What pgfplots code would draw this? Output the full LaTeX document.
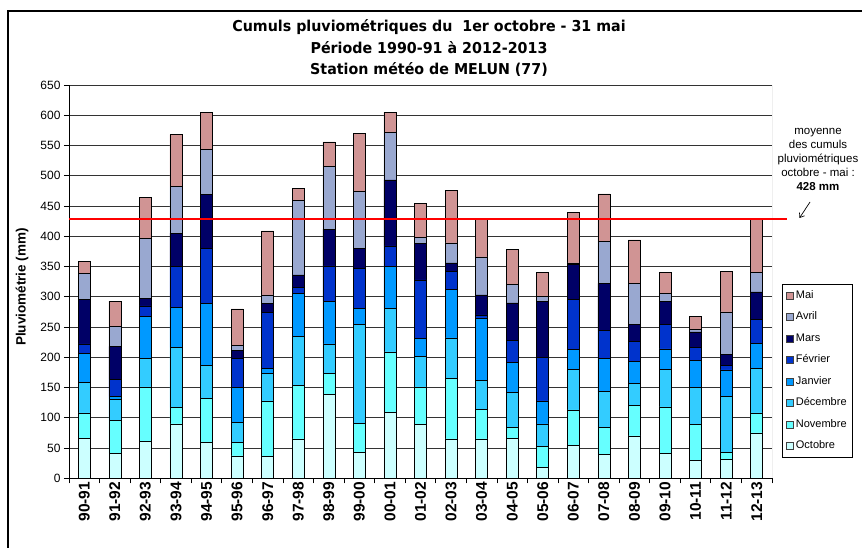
\documentclass[border=0pt]{standalone}
\usepackage{pgfplots}
\pgfplotsset{compat=1.18}
\usepackage{pgfplotstable}
\usepackage{fontspec}
\setmainfont{Liberation Sans}
\newfontfamily\titlefont[FakeStretch=0.95]{DejaVu Sans}
\usetikzlibrary{arrows.meta}

\definecolor{cOct}{HTML}{CCFFFF}
\definecolor{cNov}{HTML}{66FFFF}
\definecolor{cDec}{HTML}{33CCFF}
\definecolor{cJan}{HTML}{0099FF}
\definecolor{cFev}{HTML}{0033CC}
\definecolor{cMar}{HTML}{000066}
\definecolor{cAvr}{HTML}{99A8D0}
\definecolor{cMai}{HTML}{D09494}

\pgfplotstableread{
x  oct nov dec jan fev mar avr mai
0  66  42  50  48  16  74  43  20
1  41  55  35  4   29  54  33  42
2  61  90  47  69  18  12  100 67
3  90  27  99  67  67  55  77  86
4  59  73  54  103 91  89  75  61
5  37  22  34  57  48  14  8   60
6  36  92  46  7   93  15  14  106
7  65  88  82  71  10  20  123 20
8  139 35  48  71  58  61  104 40
9  43  48  163 27  66  33  94  96
10 109 100 72  69  34  109 79  33
11 89  62  51  29  97  60  10  56
12 65  100 67  80  30  14  33  87
13 65  49  48  103 5   33  63  62
14 66  18  58  50  36  62  30  58
15 18  35  37  38  72  93  7   40
16 54  59  67  33  82  58  3   83
17 39  45  59  55  47  77  69  79
18 70  50  37  36  33  28  68  72
19 41  77  62  34  40  39  13  34
20 29  60  61  45  21  26  4   21
21 31  12  92  44  7   19  70  67
22 75  33  74  41  40  45  32  88
}\data

\begin{document}
\begin{tikzpicture}
\useasboundingbox (0pt,0pt) rectangle (862pt,548pt);
\draw[line width=1.3pt] (8pt,-2pt) -- (8pt,537pt) -- (864pt,537pt);

\node[font=\titlefont\bfseries\fontsize{15}{18}\selectfont, anchor=base] at (429pt,516.5pt) {Cumuls pluviométriques du\ \ 1er octobre - 31 mai};
\node[font=\titlefont\bfseries\fontsize{15}{18}\selectfont, anchor=base] at (429pt,494.7pt) {Période 1990-91 à 2012-2013};
\node[font=\titlefont\bfseries\fontsize{15}{18}\selectfont, anchor=base] at (429pt,473pt) {Station météo de MELUN (77)};

\node[rotate=90, font=\bfseries\fontsize{13.5}{15}\selectfont] at (22pt,261pt) {Pluviométrie (mm)};

\begin{axis}[
  at={(69pt,69.7pt)}, anchor=south west, scale only axis,
  width=703pt, height=393.3pt,
  xmin=-0.5, xmax=22.5, ymin=0, ymax=650,
  ybar stacked, bar width=12pt,
  ytick={0,50,...,650}, ymajorgrids,
  grid style={black!80, line width=0.7pt},
  axis lines*=left, axis line style={black, line width=0.8pt},
  tick align=outside, major tick length=5pt,
  tick style={black, line width=0.8pt},
  xtick={-0.5,0.5,...,22.5}, xticklabels={},
  extra x ticks={0,1,...,22},
  extra x tick labels={90-91,91-92,92-93,93-94,94-95,95-96,96-97,97-98,98-99,99-00,00-01,01-02,02-03,03-04,04-05,05-06,06-07,07-08,08-09,09-10,10-11,11-12,12-13},
  extra x tick style={major tick length=0pt, grid=none},
  xticklabel style={rotate=90, anchor=east, font=\bfseries\fontsize{15.5}{16}\selectfont},
  yticklabel style={font=\fontsize{12}{14}\selectfont},
  /pgf/number format/assume math mode=true,
  reverse legend,
  legend cell align=left,
  legend style={at={(axis description cs:1.0142,0.494)}, anchor=north west,
    draw=black, line width=0.8pt, fill=white,
    font=\fontsize{11}{13}\selectfont, inner sep=4pt, row sep=7pt,
    nodes={inner ysep=2pt, inner xsep=2pt, text height=8pt, text depth=2.5pt}},
  legend image code/.code={\draw[#1, draw=black!75, line width=0.5pt] (0pt,-3.5pt) rectangle (7pt,3.5pt);},
]
\addplot[fill=cOct, draw=black, line width=0.6pt] table[x=x,y=oct]{\data};
\addplot[fill=cNov, draw=black, line width=0.6pt] table[x=x,y=nov]{\data};
\addplot[fill=cDec, draw=black, line width=0.6pt] table[x=x,y=dec]{\data};
\addplot[fill=cJan, draw=black, line width=0.6pt] table[x=x,y=jan]{\data};
\addplot[fill=cFev, draw=black, line width=0.6pt] table[x=x,y=fev]{\data};
\addplot[fill=cMar, draw=black, line width=0.6pt] table[x=x,y=mar]{\data};
\addplot[fill=cAvr, draw=black, line width=0.6pt] table[x=x,y=avr]{\data};
\addplot[fill=cMai, draw=black, line width=0.6pt] table[x=x,y=mai]{\data};
\legend{Octobre,Novembre,Décembre,Janvier,Février,Mars,Avril,Mai}
\draw[gray, line width=0.8pt] (rel axis cs:1,0) -- (rel axis cs:1,1);
\end{axis}

\begin{axis}[
  at={(69pt,69.7pt)}, anchor=south west, scale only axis,
  width=703pt, height=393.3pt,
  xmin=-0.5, xmax=22.5, ymin=0, ymax=650,
  hide axis, clip=false,
]
\addplot[red, line width=2pt] coordinates {(-0.5,428) (23,428)};
\end{axis}

\foreach \t/\yy in {moyenne/413.5, des cumuls/399.5, pluviométriques/385.5, octobre - mai :/371.5}{
  \node[font=\fontsize{11.5}{14}\selectfont, anchor=base] at (818pt,\yy pt) {\t};
}
\node[font=\bfseries\fontsize{11.5}{14}\selectfont, anchor=base] at (818pt,357.5pt) {428 mm};
\draw[-{Straight Barb[length=4pt,width=6pt]}, line width=0.7pt] (810pt,346pt) -- (799.5pt,330pt);
\end{tikzpicture}
\end{document}
